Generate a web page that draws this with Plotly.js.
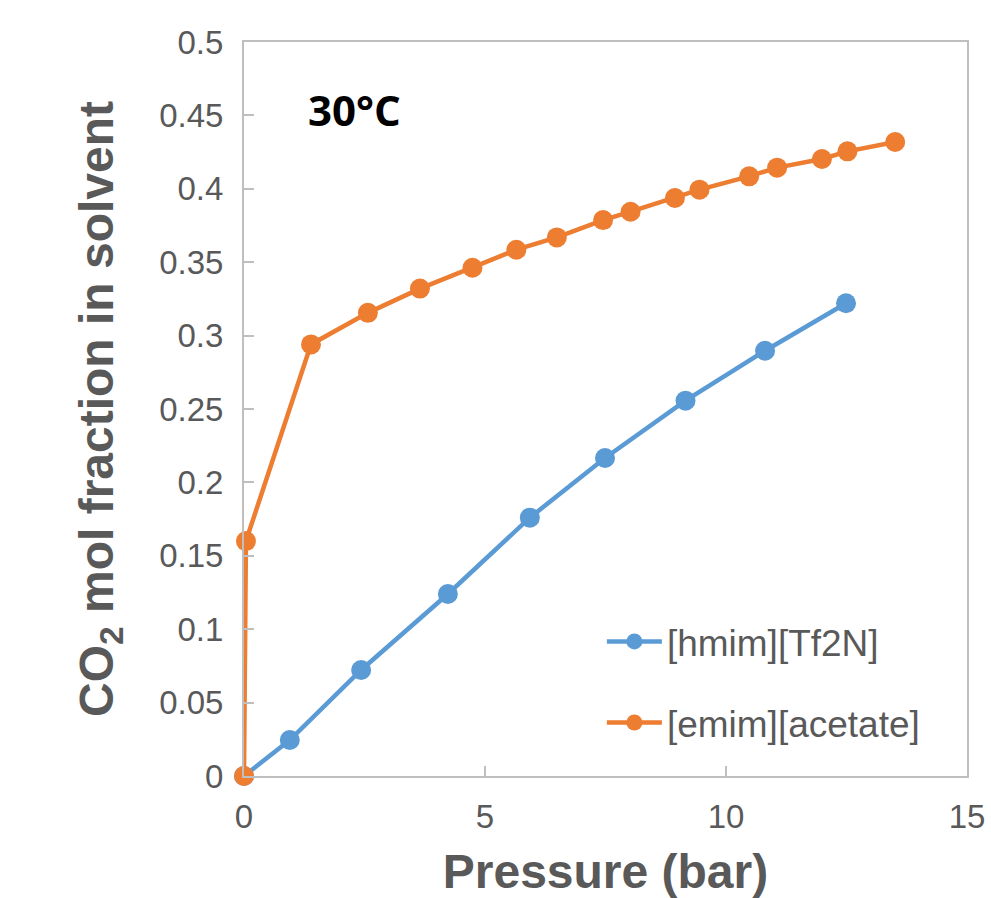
<!DOCTYPE html>
<html>
<head>
<meta charset="utf-8">
<script src="https://cdn.plot.ly/plotly-3.0.1.min.js"></script>
<style>html,body{margin:0;padding:0;background:#fff;}#chart{width:991px;height:898px;}</style>
</head>
<body>
<div id="chart"></div>
<script>
// Data
const hmimPressure = [0, 0.95, 2.43, 4.23, 5.93, 7.49, 9.16, 10.81, 12.49];
const hmimFraction = [0, 0.0245, 0.0722, 0.124, 0.176, 0.2166, 0.2557, 0.2897, 0.322];
const emimPressure = [0, 0.04, 1.39, 2.57, 3.65, 4.74, 5.65, 6.49, 7.45, 8.02, 8.94, 9.45, 10.48, 11.06, 11.99, 12.52, 13.51];
const emimFraction = [0, 0.160, 0.294, 0.3155, 0.332, 0.3462, 0.3585, 0.3669, 0.3787, 0.3844, 0.3937, 0.3994, 0.4085, 0.4144, 0.4203, 0.4255, 0.4319];
const seriesNames = ['[hmim][Tf2N]', '[emim][acetate]'];
const xTickValues = [0, 5, 10, 15];

const gray = '#595959';
const axisGray = '#BFBFBF';

const traces = [
  {
    x: hmimPressure, y: hmimFraction, name: seriesNames[0],
    type: 'scatter', mode: 'lines+markers', cliponaxis: false,
    legendgroup: 'a',
    line: {color: '#5B9BD5', width: 4.5},
    marker: {color: '#5B9BD5', size: 20}
  },
  {
    x: emimPressure, y: emimFraction, name: seriesNames[1],
    type: 'scatter', mode: 'lines+markers', cliponaxis: false,
    legendgroup: 'b',
    line: {color: '#ED7D31', width: 4.5},
    marker: {color: '#ED7D31', size: 20}
  }
];

const layout = {
  width: 991, height: 898,
  margin: {l: 244, r: 24, t: 42, b: 122, pad: 0},
  paper_bgcolor: '#fff', plot_bgcolor: '#fff',
  font: {family: 'Liberation Sans, Arial, sans-serif', color: gray, size: 33},
  showlegend: true,
  legend: {
    x: 0.495, y: 0.225, xanchor: 'left', yanchor: 'top',
    bgcolor: 'rgba(0,0,0,0)', borderwidth: 0,
    font: {size: 37, color: gray},
    itemwidth: 55,
    traceorder: 'grouped', tracegroupgap: 30
  },
  xaxis: {
    range: [0, 15], tickvals: xTickValues, ticktext: xTickValues.map(String),
    showgrid: false, zeroline: false,
    showline: true, linecolor: axisGray, linewidth: 2, mirror: true,
    ticks: 'inside', ticklen: 10, tickwidth: 2, tickcolor: axisGray,
    ticklabelstandoff: 10,
    tickfont: {size: 33, color: gray},
    title: {text: 'Pressure (bar)', font: {size: 48, color: gray, family: 'Liberation Sans, Arial, sans-serif', weight: 'bold'}, standoff: 36}
  },
  yaxis: {
    range: [0, 0.5], dtick: 0.05, tick0: 0,
    showgrid: false, zeroline: false,
    showline: true, linecolor: axisGray, linewidth: 2, mirror: true,
    ticks: 'inside', ticklen: 10, tickwidth: 2, tickcolor: axisGray,
    ticklabelstandoff: 12,
    tickfont: {size: 33, color: gray},
    title: {text: 'CO<sub>2</sub> mol fraction in solvent', font: {size: 48, color: gray, family: 'Liberation Sans, Arial, sans-serif', weight: 'bold'}, standoff: 30}
  },
  annotations: [{
    x: 2.29, y: 0.4537, xref: 'x', yref: 'y',
    text: '<b>30°C</b>', showarrow: false,
    font: {size: 42, color: '#000', family: 'Open Sans, Liberation Sans, sans-serif'}
  }]
};

Plotly.newPlot('chart', traces, layout, {displayModeBar: false, staticPlot: true});
</script>
</body>
</html>
